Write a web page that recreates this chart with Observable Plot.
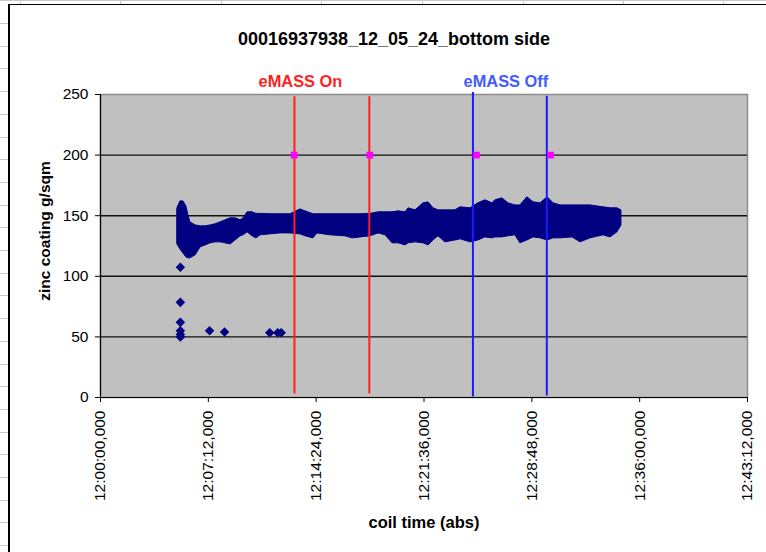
<!DOCTYPE html>
<html>
<head>
<meta charset="utf-8">
<script src="https://cdn.jsdelivr.net/npm/d3@7"></script>
<script src="https://cdn.jsdelivr.net/npm/@observablehq/plot@0.6"></script>
<style>
  body { margin: 0; background: #fff; }
  #wrap { position: relative; width: 766px; height: 552px; overflow: hidden; background: #fff; font-family: "Liberation Sans", Arial, sans-serif; }
  .deco { position: absolute; background: #c8c8c8; }
  #frameL { position: absolute; left: 8px; top: 4px; width: 1.5px; height: 560px; background: #000; }
  #frameT { position: absolute; left: 8px; top: 3.5px; width: 770px; height: 1.5px; background: #000; }
  #chart { position: absolute; left: 0; top: 0; }
</style>
</head>
<body>
<div id="wrap">
  <div id="frameL"></div>
  <div id="frameT"></div>
  <div id="chart"></div>
</div>
<script>
// ---- data ----
const chartTitle = "00016937938_12_05_24_bottom side";
const xLabel = "coil time (abs)";
const yLabel = "zinc coating g/sqm";

const xTickLabels = ["12:00:00,000","12:07:12,000","12:14:24,000","12:21:36,000","12:28:48,000","12:36:00,000","12:43:12,000"];
const yTicks = [0, 50, 100, 150, 200, 250];
const yGrid = [50, 100, 150, 200];

// dense scatter band: envelope (lowest / highest readings) over time
const bandTime = ["12:05:08","12:05:20","12:05:32","12:05:44","12:05:52","12:06:00","12:06:21","12:06:41","12:07:01","12:07:21","12:07:41","12:08:01","12:08:21","12:08:41","12:09:01","12:09:21","12:09:33","12:09:49","12:10:09","12:10:25","12:10:41","12:11:21","12:12:01","12:12:41","12:13:21","12:13:41","12:14:13","12:14:29","12:15:21","12:16:21","12:16:50","12:17:22","12:18:02","12:18:34","12:19:02","12:19:30","12:19:54","12:20:22","12:20:34","12:21:02","12:21:34","12:21:54","12:22:14","12:22:34","12:23:02","12:23:42","12:24:02","12:24:42","12:25:14","12:25:42","12:26:10","12:26:22","12:26:50","12:27:14","12:27:42","12:28:02","12:28:30","12:28:55","12:29:23","12:29:51","12:30:15","12:30:43","12:31:31","12:32:03","12:32:43","12:33:35","12:34:03","12:34:31","12:34:47"];
const bandHigh = [156.1,161.8,161.8,157.7,150.3,144.5,142.0,141.2,141.2,142.0,142.9,144.5,146.2,147.8,147.8,146.2,147.8,152.8,152.8,151.5,151.5,151.2,151.2,151.2,155.2,153.6,151.2,151.2,151.2,151.2,151.2,151.2,151.5,152.8,152.8,152.8,153.6,152.8,156.1,154.4,160.2,161.0,156.1,154.4,154.4,154.4,156.9,156.1,160.2,162.7,160.2,162.7,164.3,160.2,158.5,158.5,165.2,161.0,160.2,165.2,160.2,158.5,158.5,158.5,158.5,156.9,156.1,156.1,154.4];
const bandLow = [126.3,122.2,118.9,115.6,114.8,114.8,117.3,123.9,125.5,127.2,128.0,128.0,127.2,126.3,129.6,133.0,133.8,136.3,133.0,131.3,133.8,134.6,135.4,135.4,134.6,133.0,131.3,135.4,133.8,133.0,131.3,132.1,133.0,135.4,133.8,127.2,127.2,125.5,127.2,128.0,127.2,125.5,129.6,133.0,128.0,129.6,130.5,128.0,129.6,132.1,131.3,132.1,132.1,133.0,133.8,127.2,129.6,132.1,131.3,129.6,131.3,131.3,132.1,128.0,131.3,133.8,132.1,136.3,142.0];

// isolated low readings
const outTime = ["12:05:20","12:05:20","12:05:20","12:05:20","12:05:20","12:05:20","12:07:17","12:08:17","12:11:18","12:11:50","12:12:04"];
const outValue = [107.5, 78.5, 62, 55, 52, 50, 55, 54, 53.5, 53.5, 53.5];

// eMASS marker lines
const markerState = ["On", "On", "Off", "Off"];
const markerTime = ["12:12:57", "12:17:57", "12:24:52", "12:29:48"];
const markerTop = [248.5, 248.5, 252, 249];
const markerBottom = [3.3, 3.3, 0.8, 1.6];

// magenta points at 200
const pinkTime = ["12:12:56", "12:17:59", "12:25:06", "12:30:03"];
const pinkValue = [200, 200, 200, 200];

// series labels
const labelText = ["eMASS On", "eMASS Off"];
const labelTime = ["12:13:21", "12:27:04"];

// ---- helpers ----
function parseT(s) {
  const [h, m, sec] = s.split(",")[0].split(":").map(Number);
  return new Date(Date.UTC(2024, 4, 12, h, m, sec));
}
const xTicks = xTickLabels.map(parseT);
const tickLabelMap = new Map(xTicks.map((d, i) => [d.getTime(), xTickLabels[i]]));

const band = bandTime.map((t, i) => ({t: parseT(t), lo: bandLow[i], hi: bandHigh[i]}));
const outliers = outTime.map((t, i) => ({t: parseT(t), v: outValue[i]}));
const markers = markerTime.map((t, i) => ({t: parseT(t), state: markerState[i], top: markerTop[i], bottom: markerBottom[i]}));
const pinks = pinkTime.map((t, i) => ({t: parseT(t), v: pinkValue[i]}));
const labels = labelText.map((s, i) => ({t: parseT(labelTime[i]), s}));

const RED = "#ff1f1f", BLUE = "#1a1aff", LBLUE = "#3f5cff", NAVY = "#000080";

// decoration: spreadsheet grid peeking out
const wrap = document.getElementById("wrap");
[20, 120, 221, 321, 422, 523, 623, 723].forEach(x => {
  const d = document.createElement("div"); d.className = "deco";
  d.style.left = x + "px"; d.style.top = "0px"; d.style.width = "1px"; d.style.height = "3.5px";
  wrap.appendChild(d);
});
{
  const d = document.createElement("div"); d.className = "deco";
  d.style.left = "0px"; d.style.top = "0px"; d.style.width = "766px"; d.style.height = "1px";
  wrap.appendChild(d);
}
for (let y = 23; y < 552; y += 22.7) {
  const d = document.createElement("div"); d.className = "deco";
  d.style.left = "0px"; d.style.top = y + "px"; d.style.width = "8px"; d.style.height = "1px";
  wrap.appendChild(d);
}

const chart = Plot.plot({
  width: 766,
  height: 552,
  marginLeft: 100,
  marginRight: 19,
  marginTop: 94,
  marginBottom: 155,
  style: {background: "transparent", fontFamily: "'Liberation Sans', Arial, sans-serif", color: "#000"},
  x: {type: "utc", domain: [parseT("12:00:00"), parseT("12:43:12")]},
  y: {domain: [0, 250]},
  marks: [
    Plot.frame({fill: "#c0c0c0", stroke: "#8c8c8c", strokeWidth: 1.5}),
    Plot.ruleY(yGrid, {stroke: "#111", strokeWidth: 1.4}),
    Plot.areaY(band, {x: "t", y1: "lo", y2: "hi", fill: NAVY, stroke: NAVY, strokeWidth: 1, curve: "linear"}),
    Plot.dot(outliers, {x: "t", y: "v", symbol: "diamond2", r: 4.3, fill: NAVY, stroke: "none"}),
    Plot.link(markers.filter(d => d.state === "On"), {x1: "t", x2: "t", y1: "bottom", y2: "top", stroke: RED, strokeWidth: 2}),
    Plot.link(markers.filter(d => d.state === "Off"), {x1: "t", x2: "t", y1: "bottom", y2: "top", stroke: BLUE, strokeWidth: 2}),
    Plot.dot(pinks, {x: "t", y: "v", symbol: "square", r: 3.8, fill: "#ff00ff", stroke: "none"}),
    Plot.ruleX([parseT("12:00:00")], {stroke: "#000", strokeWidth: 1.2}),
    Plot.ruleY([0], {stroke: "#000", strokeWidth: 1.2}),
    Plot.axisY({ticks: yTicks, tickSize: 5, tickPadding: 7, fontSize: 15.5, label: null, stroke: "#000", fill: "#000"}),
    Plot.axisX({ticks: xTicks, tickFormat: d => tickLabelMap.get(d.getTime()), tickRotate: -90, tickSize: 5, tickPadding: 8, fontSize: 15.5, label: null, stroke: "#000", fill: "#000"}),
    Plot.text([chartTitle], {frameAnchor: "top", lineAnchor: "middle", dx: -30, dy: -55, fontSize: 18, fontWeight: "bold", fill: "#000"}),
    Plot.text([xLabel], {frameAnchor: "bottom", lineAnchor: "middle", dy: 125, fontSize: 16.5, fontWeight: "bold", fill: "#000"}),
    Plot.text([yLabel], {frameAnchor: "left", lineAnchor: "middle", dx: -55, dy: -15, rotate: -90, textAnchor: "middle", fontSize: 15.5, fontWeight: "bold", fill: "#000"}),
    Plot.text(labels.filter(d => d.s === "eMASS On"), {x: "t", text: "s", frameAnchor: "top", lineAnchor: "middle", dy: -13, fontSize: 16.4, fontWeight: "bold", fill: RED}),
    Plot.text(labels.filter(d => d.s === "eMASS Off"), {x: "t", text: "s", frameAnchor: "top", lineAnchor: "middle", dy: -13, fontSize: 16.4, fontWeight: "bold", fill: LBLUE})
  ]
});
document.getElementById("chart").appendChild(chart);
</script>
</body>
</html>
